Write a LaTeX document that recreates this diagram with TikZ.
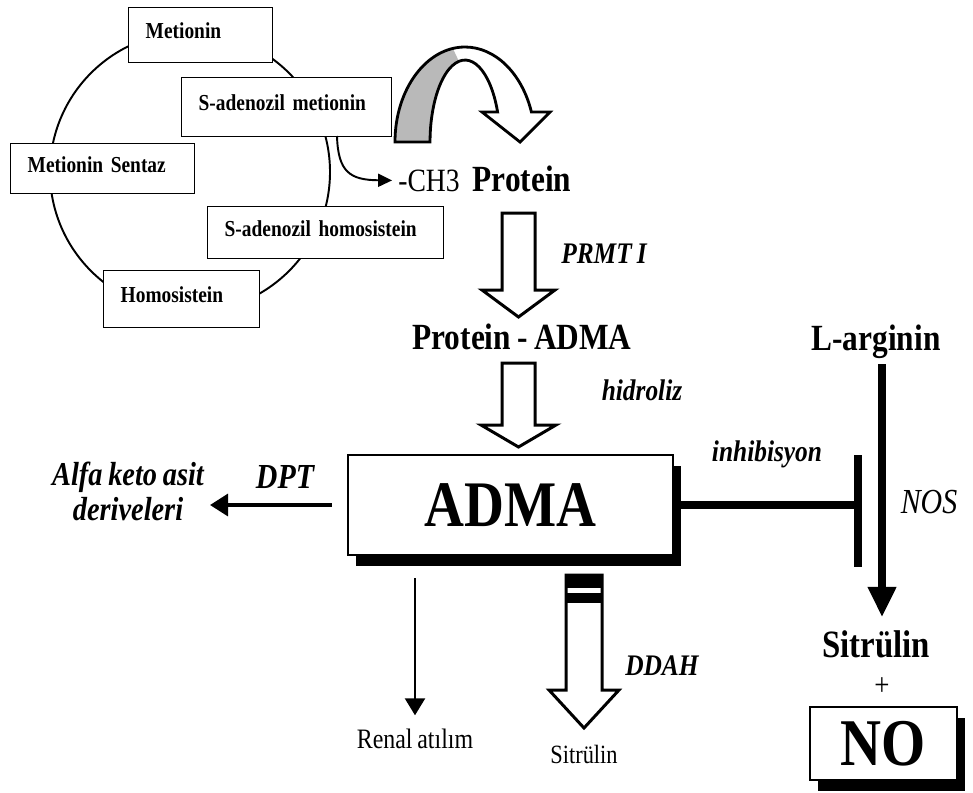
\documentclass[tikz,border=0pt]{standalone}
\usepackage{fontspec}
\setmainfont[FakeStretch=0.85, WordSpace=0.8]{Liberation Serif}
\usetikzlibrary{arrows.meta,shadows}

\tikzset{
  cyclebox/.style={draw, fill=white, line width=0.8pt, anchor=north west, align=left,
    inner xsep=0.34cm, text depth=0.17cm, font=\fontsize{13}{15}\selectfont\bfseries},
  hollow/.style={draw, fill=white, line width=1.7pt, line join=miter},
  bigtext/.style={anchor=base, font=\fontsize{21}{24}\selectfont\bfseries},
  enzyme/.style={anchor=base, font=\fontsize{17}{20}\selectfont\bfseries\itshape},
  smalltext/.style={anchor=base, font=\fontsize{16}{18}\selectfont},
  thinarrow/.style={line width=1.4pt, -{Triangle[length=0.34cm, width=0.4cm]}},
  blackshadow/.style={drop shadow={shadow xshift=0.16cm, shadow yshift=-0.22cm, fill=black, opacity=1}},
}

\begin{document}
\begin{tikzpicture}[x=0.02cm, y=0.02cm]
\useasboundingbox (0,0) rectangle (973,-792);

% methionine cycle
\draw[line width=1.1pt] (190,-172) circle (140);
\node[cyclebox, text width=2.2cm, minimum height=1.1cm] (met) at (128,-7) {Metionin};
\node[cyclebox, text width=3.52cm, minimum height=1.18cm] (sam) at (181,-77) {S-adenozil metionin};
\node[cyclebox, text width=3.0cm, minimum height=1.0cm] (ms) at (10,-143) {Metionin Sentaz};
\node[cyclebox, text width=4.04cm, minimum height=1.04cm] (sah) at (207,-206) {S-adenozil homosistein};
\node[cyclebox, text width=2.44cm, minimum height=1.14cm] (hcy) at (103,-270) {Homosistein};

% methyl group
\coordinate (me) at (337,-136);
\node[anchor=base, font=\fontsize{18.5}{22}\selectfont] (ch3) at (429,-191) {-CH3};
\node[bigtext] (prot) at (522,-191) {Protein};
\draw[line width=1.1pt, -{Triangle[length=0.28cm, width=0.26cm]}] (me) .. controls (338,-172) and (350,-180) .. (ch3.west);

% curved transfer arrow
\fill[gray!55] (395,-142) arc[start angle=180, end angle=100, x radius=70, y radius=95]
  -- (458.9,-61.25) arc[start angle=100, end angle=180, x radius=35, y radius=82] -- cycle;
\draw[line width=1.6pt, line join=miter] (395,-142) arc[start angle=180, end angle=18.4, x radius=70, y radius=95]
  -- (550,-112) -- (520,-142) -- (482,-112) -- (497.6,-112)
  arc[start angle=21.5, end angle=180, x radius=35, y radius=82] -- cycle;

% protein -> protein-ADMA -> ADMA
\draw[hollow] (502,-213) -- (502,-290) -- (482,-290) -- (518.5,-317) -- (555,-290) -- (535,-290) -- (535,-213) -- cycle;
\node[enzyme] (prmt) at (604,-263) {PRMT I};
\node[bigtext] (padma) at (522,-349) {Protein - ADMA};
\draw[hollow] (502,-363) -- (502,-425) -- (481,-425) -- (518.5,-447) -- (556,-425) -- (535,-425) -- (535,-363) -- cycle;
\node[enzyme] (hid) at (642,-400) {hidroliz};

\node[draw, fill=white, line width=1.5pt, minimum width=6.5cm, minimum height=2cm, blackshadow,
  font=\fontsize{37}{40}\selectfont\bfseries] (adma) at (510.5,-505) {ADMA};

% inhibition of NOS
\coordinate (inh) at (858,-505);
\draw[line width=5pt] (adma.east) -- (inh);
\draw[line width=5pt] ([yshift=1.0cm]inh) -- ([yshift=-1.24cm]inh);
\node[enzyme] (inhlab) at (767,-461) {inhibisyon};

\node[bigtext] (larg) at (876,-350) {L-arginin};
\node[bigtext, font=\fontsize{22}{26}\selectfont\bfseries] (sitr) at (876,-657) {Sitrülin};
\draw[line width=4pt, -{Triangle[length=0.6cm, width=0.54cm]}, shorten >=0.14cm]
  ([xshift=0.12cm]larg.south) -- ([xshift=0.12cm]sitr.north);
\node[anchor=base, font=\fontsize{20}{24}\selectfont\itshape] (nos) at (929,-513) {NOS};
\node[font=\fontsize{18}{20}\selectfont] (plus) at (882,-687) {+};
\node[draw, fill=white, line width=1.4pt, minimum width=2.94cm, minimum height=1.46cm, blackshadow,
  font=\fontsize{38}{40}\selectfont\bfseries] (no) at (883.5,-743.5) {NO};

% DPT
\node[enzyme, font=\fontsize{20}{24}\selectfont\bfseries\itshape] (dpt) at (285,-488) {DPT};
\node[align=center, font=\fontsize{19}{20}\selectfont\bfseries\itshape] (alfa) at (128,-491) {Alfa keto asit\\deriveleri};
\draw[line width=1.9pt, -{Triangle[length=0.36cm, width=0.44cm]}, shorten <=0.3cm] (adma.west) -- (adma.west -| alfa.east);

% renal
\node[smalltext] (renal) at (415,-748) {Renal atılım};
\draw[thinarrow, shorten <=0.44cm, shorten >=0.14cm] (adma.south -| renal.north) -- (renal.north);

% DDAH
\draw[hollow] (566,-575) -- (566,-690) -- (549,-690) -- (584,-728) -- (619,-690) -- (602,-690) -- (602,-575) -- cycle;
\fill (566,-575) rectangle (602,-588);
\fill (566,-593) rectangle (602,-603);
\node[enzyme] (ddah) at (662,-675) {DDAH};
\node[smalltext, font=\fontsize{15}{18}\selectfont] (sitr2) at (584,-763) {Sitrülin};
\end{tikzpicture}
\end{document}
